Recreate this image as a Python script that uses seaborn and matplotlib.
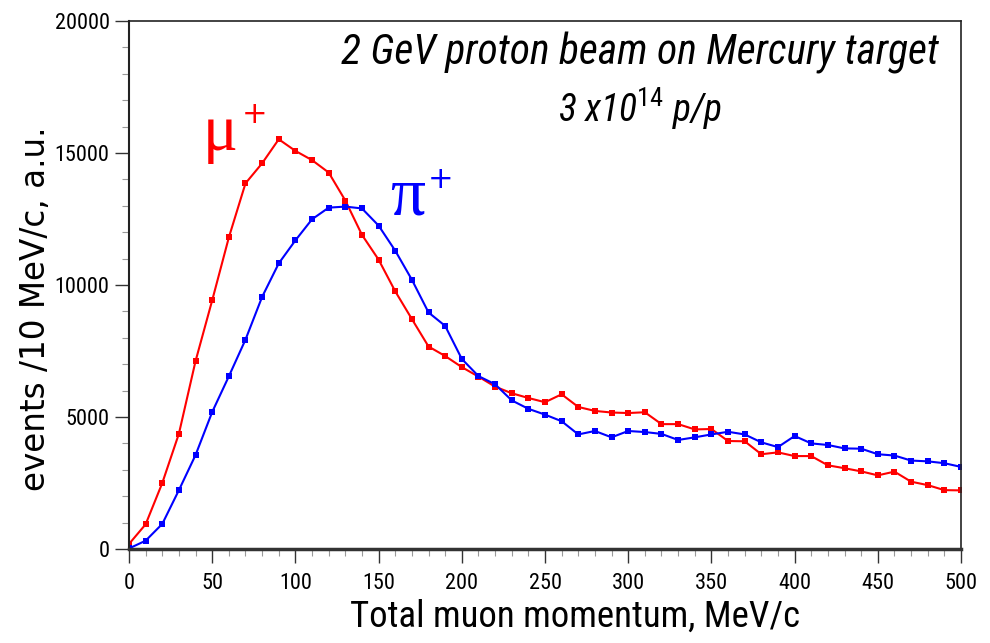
import matplotlib
matplotlib.use("Agg")
import matplotlib.pyplot as plt
import seaborn as sns
import pandas as pd
import numpy as np
from matplotlib.ticker import MultipleLocator

momentum = list(range(0, 510, 10))
mu_plus = [190, 935, 2500, 4370, 7120, 9420, 11800, 13850, 14610, 15520,
           15080, 14730, 14260, 13200, 11900, 10960, 9760, 8710, 7670, 7310,
           6890, 6530, 6150, 5900, 5720, 5560, 5860, 5380, 5230, 5170,
           5150, 5180, 4730, 4730, 4530, 4545, 4090, 4080, 3590, 3660,
           3520, 3520, 3170, 3060, 2940, 2790, 2930, 2550, 2420, 2230, 2220]
pi_plus = [20, 315, 950, 2230, 3560, 5190, 6540, 7930, 9550, 10820,
           11690, 12490, 12930, 12970, 12900, 12250, 11300, 10200, 8960, 8450,
           7200, 6550, 6240, 5630, 5310, 5090, 4840, 4340, 4470, 4230,
           4470, 4430, 4360, 4130, 4230, 4340, 4440, 4340, 4040, 3860,
           4280, 4000, 3940, 3810, 3800, 3590, 3540, 3350, 3320, 3250, 3110]

x_ticks = [0, 50, 100, 150, 200, 250, 300, 350, 400, 450, 500]
y_ticks = [0, 5000, 10000, 15000, 20000]

sns.set_theme(style="white")
NARROW = ['Roboto Condensed', 'Liberation Sans Narrow', 'Liberation Sans', 'DejaVu Sans']
plt.rcParams['font.family'] = NARROW
plt.rcParams['mathtext.fontset'] = 'custom'
plt.rcParams['mathtext.rm'] = 'Roboto Condensed'
plt.rcParams['mathtext.it'] = 'Roboto Condensed:italic'

df = pd.DataFrame({
    "p": momentum * 2,
    "events": mu_plus + pi_plus,
    "particle": ["mu"] * len(momentum) + ["pi"] * len(momentum),
})

fig = plt.figure(figsize=(9.9, 6.43), dpi=100)
ax = fig.add_axes([129 / 990, 1 - 549 / 643, 832 / 990, 528 / 643])

sns.lineplot(data=df, x="p", y="events", hue="particle",
             palette={"mu": "#ff0000", "pi": "#0000ff"},
             marker="s", markersize=4.5, markeredgewidth=0, linewidth=1.5,
             legend=False, ax=ax)

ax.set_xlim(0, 500)
ax.set_ylim(0, 20000)
ax.set_xticks(x_ticks)
ax.set_yticks(y_ticks)
ax.xaxis.set_minor_locator(MultipleLocator(10))
ax.yaxis.set_minor_locator(MultipleLocator(1000))
ax.tick_params(axis="both", which="major", direction="out", length=10,
               width=1.0, color="#333333", labelsize=16, labelcolor="black",
               bottom=True, left=True)
ax.tick_params(axis="both", which="minor", direction="out", length=5,
               width=0.8, color="#999999", bottom=True, left=True)
ax.tick_params(axis="x", pad=7)
ax.tick_params(axis="y", pad=4)

for side in ["top", "right"]:
    ax.spines[side].set_color("#222222")
    ax.spines[side].set_linewidth(1.2)
ax.spines["left"].set_color("#222222")
ax.spines["left"].set_linewidth(1.5)
ax.spines["bottom"].set_color("#333333")
ax.spines["bottom"].set_linewidth(2.5)

ax.set_xlabel("Total muon momentum, MeV/c", fontsize=26.5, color="black")
ax.xaxis.set_label_coords((575 - 129) / 832, -0.095)
ax.set_ylabel("events /10 MeV/c, a.u.", fontsize=23.5, color="black",
              family=["DejaVu Sans"])
ax.yaxis.set_label_coords(-(129 - 52) / 832, 0.4545)

ax.text(0.614, 0.9167, "2 GeV proton beam on Mercury target", transform=ax.transAxes,
        ha="center", va="baseline", fontsize=30, style="italic", color="black")
ax.text(0.614, 0.8087, r"3 x10$^{\mathit{14}}$ p/p", transform=ax.transAxes,
        ha="center", va="baseline", fontsize=27, style="italic", color="black")

SERIF = ["Liberation Serif", "DejaVu Serif"]
ax.text(0.089, 0.7557, "μ", transform=ax.transAxes, ha="left", va="baseline",
        fontsize=47, color="#ff0000", family=SERIF)
ax.text(0.151, 0.822, "+", transform=ax.transAxes, ha="center", va="center",
        fontsize=22, color="#ff0000", family=["DejaVu Sans"])
ax.text(0.3137, 0.6326, "π", transform=ax.transAxes, ha="left", va="baseline",
        fontsize=50, color="#0000ff", family=SERIF)
ax.text(0.374, 0.699, "+", transform=ax.transAxes, ha="center", va="center",
        fontsize=22, color="#0000ff", family=["DejaVu Sans"])

fig.savefig("out.png", dpi=100)
